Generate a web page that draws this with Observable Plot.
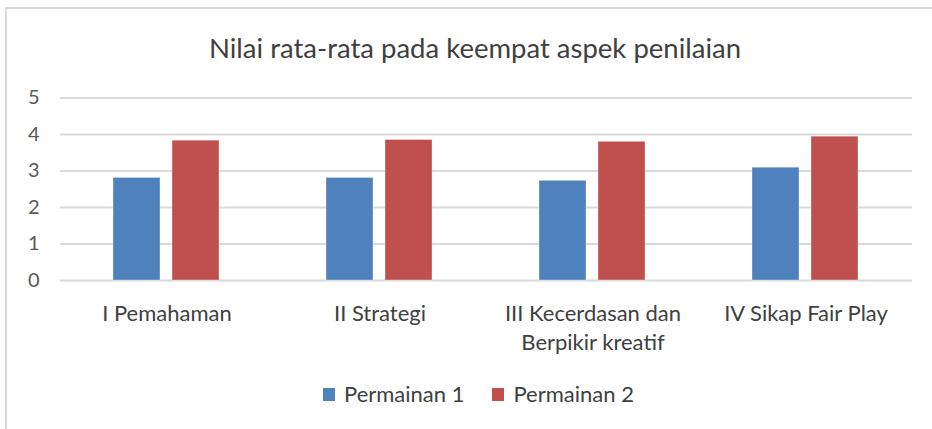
<!DOCTYPE html>
<html>
<head>
<meta charset="utf-8">
<script src="https://cdn.jsdelivr.net/npm/d3@7"></script>
<script src="https://cdn.jsdelivr.net/npm/@observablehq/plot@0.6"></script>
<style>
  html, body { margin: 0; padding: 0; background: #fff; }
  #wrap { position: relative; width: 932px; height: 429px; overflow: hidden; font-family: Lato, "Open Sans", sans-serif; }
  #frame { position: absolute; left: 5px; top: 7px; right: -10px; bottom: -10px; border-top: 2px solid #d9d9d9; border-left: 2px solid #d9d9d9; }
  #title { position: absolute; left: 0; width: 950px; top: 32px; text-align: center; font-size: 27.5px; line-height: 32px; color: #404040; }
  #chart { position: absolute; left: 0; top: 0; }
  #legend { position: absolute; left: 323px; top: 380px; display: flex; align-items: center; font-size: 22px; color: #404040; line-height: 28px; }
  .sw { width: 12px; height: 13px; display: inline-block; margin-right: 9px; }
  .item { display: flex; align-items: center; margin-right: 28px; }
</style>
</head>
<body>
<div id="wrap">
  <div id="frame"></div>
  <div id="chart"></div>
  <div id="title"></div>
  <div id="legend"></div>
</div>
<script>
const titleText = "Nilai rata-rata pada keempat aspek penilaian";
const categories = ["I Pemahaman", "II Strategi", "III Kecerdasan dan Berpikir kreatif", "IV Sikap Fair Play"];
const categoryLabels = ["I Pemahaman", "II Strategi", "III Kecerdasan dan\nBerpikir kreatif", "IV Sikap Fair Play"];
const series = ["Permainan 1", "Permainan 2"];
const permainan1 = [2.81, 2.81, 2.73, 3.09];
const permainan2 = [3.83, 3.85, 3.80, 3.94];
const colors = ["#4F81BD", "#C0504D"];
const yTicks = [0, 1, 2, 3, 4, 5];

const values = [permainan1, permainan2];
const rows = [];
categories.forEach((c, i) => series.forEach((s, j) => rows.push({category: c, series: s, value: values[j][i]})));
const labelRows = categories.map((c, i) => ({category: c, label: categoryLabels[i]}));

document.getElementById("title").textContent = titleText;

const plot = Plot.plot({
  width: 932,
  height: 370,
  marginTop: 97.5,
  marginBottom: 90,
  marginLeft: 58,
  marginRight: 19,
  style: {fontFamily: "Lato, 'Open Sans', sans-serif", background: "transparent", overflow: "visible"},
  fx: {domain: categories, padding: 0, axis: null, label: null},
  x: {domain: series, paddingInner: 0.2, paddingOuter: 0.88, axis: null, label: null},
  y: {domain: [0, 5], ticks: yTicks, axis: null, label: null},
  color: {domain: series, range: colors},
  marks: [
    Plot.gridY(yTicks, {stroke: "#d9d9d9", strokeWidth: 2, strokeOpacity: 1}),
    Plot.barY(rows, {fx: "category", x: "series", y: "value", fill: "series", stroke: "#ffffff", strokeOpacity: 0.35, strokeWidth: 1}),
    Plot.axisY(yTicks, {tickSize: 0, tickPadding: 21, fontSize: 20, fill: "#595959", label: null, tickFormat: d => String(d)}),
    Plot.text(labelRows, {fx: "category", text: "label", frameAnchor: "bottom", lineAnchor: "top", dy: 20, fontSize: 22, lineHeight: 1.32, fill: "#404040"})
  ]
});
document.getElementById("chart").appendChild(plot);

const legend = document.getElementById("legend");
series.forEach((s, j) => {
  const item = document.createElement("div");
  item.className = "item";
  const sw = document.createElement("span");
  sw.className = "sw";
  sw.style.background = colors[j];
  const t = document.createElement("span");
  t.textContent = s;
  item.appendChild(sw);
  item.appendChild(t);
  legend.appendChild(item);
});
</script>
</body>
</html>
